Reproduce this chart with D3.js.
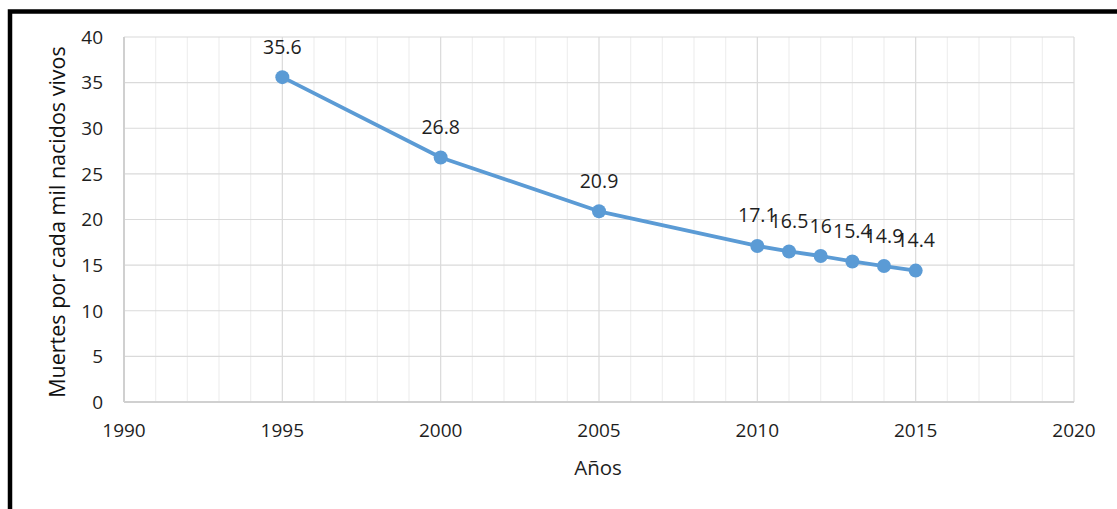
<!DOCTYPE html>
<html>
<head>
<meta charset="utf-8">
<script src="https://cdn.jsdelivr.net/npm/d3@7"></script>
<style>
  html, body { margin: 0; padding: 0; background: #fff; }
  svg { display: block; font-family: "Open Sans", "Noto Sans", sans-serif; }
</style>
</head>
<body>
<div id="chart"></div>
<script>
// -- data --
const years = [1995, 2000, 2005, 2010, 2011, 2012, 2013, 2014, 2015];
const rates = [35.6, 26.8, 20.9, 17.1, 16.5, 16, 15.4, 14.9, 14.4];
const xTicks = [1990, 1995, 2000, 2005, 2010, 2015, 2020];
const yTicks = [0, 5, 10, 15, 20, 25, 30, 35, 40];
const xTitle = 'Años';
const yTitle = 'Muertes por cada mil nacidos vivos';

const W = 1117, H = 509;
const m = { left: 124, right: 43, top: 37, bottom: 107 };
const blue = '#5b9bd5';
const textCol = '#1e1e1e';

const svg = d3.select('#chart').append('svg')
  .attr('width', W).attr('height', H);

// black frame (top and left edges visible in the crop)
svg.append('path')
  .attr('d', `M10,${H + 5} L10,11.5 L${W + 5},11.5`)
  .attr('fill', 'none')
  .attr('stroke', '#000')
  .attr('stroke-width', 4.5);

const x = d3.scaleLinear().domain([1990, 2020]).range([m.left, W - m.right]);
const y = d3.scaleLinear().domain([0, 40]).range([H - m.bottom, m.top]);

const g = svg.append('g');

// minor vertical grid, one per year
g.selectAll('line.vminor')
  .data(d3.range(1991, 2020).filter(v => v % 5 !== 0))
  .enter().append('line')
  .attr('class', 'vminor')
  .attr('x1', d => x(d)).attr('x2', d => x(d))
  .attr('y1', y(0)).attr('y2', y(40))
  .attr('stroke', '#efefef').attr('stroke-width', 1.2);

// major vertical grid
g.selectAll('line.vmajor')
  .data(xTicks)
  .enter().append('line')
  .attr('class', 'vmajor')
  .attr('x1', d => x(d)).attr('x2', d => x(d))
  .attr('y1', y(0)).attr('y2', y(40))
  .attr('stroke', '#dadada').attr('stroke-width', 1.2);

// horizontal grid
g.selectAll('line.hgrid')
  .data(yTicks)
  .enter().append('line')
  .attr('class', 'hgrid')
  .attr('x1', x(1990)).attr('x2', x(2020))
  .attr('y1', d => y(d)).attr('y2', d => y(d))
  .attr('stroke', '#dadada').attr('stroke-width', 1.2);

// axes frame lines a touch darker
g.append('line')
  .attr('x1', x(1990)).attr('x2', x(2020))
  .attr('y1', y(0)).attr('y2', y(0))
  .attr('stroke', '#d0d0d0').attr('stroke-width', 2);
g.append('line')
  .attr('x1', x(1990)).attr('x2', x(1990))
  .attr('y1', y(0)).attr('y2', y(40))
  .attr('stroke', '#d0d0d0').attr('stroke-width', 2);

// tick labels
g.selectAll('text.ylab')
  .data(yTicks)
  .enter().append('text')
  .attr('class', 'ylab')
  .attr('x', 103)
  .attr('y', d => y(d))
  .attr('dy', '0.36em')
  .attr('text-anchor', 'end')
  .attr('font-size', '19px')
  .attr('fill', textCol)
  .text(d => d);

g.selectAll('text.xlab')
  .data(xTicks)
  .enter().append('text')
  .attr('class', 'xlab')
  .attr('x', d => x(d))
  .attr('y', 437)
  .attr('text-anchor', 'middle')
  .attr('font-size', '19px')
  .attr('fill', textCol)
  .text(d => d);

// axis titles
svg.append('text')
  .attr('x', 598)
  .attr('y', 475)
  .attr('text-anchor', 'middle')
  .attr('font-size', '20.5px')
  .attr('fill', textCol)
  .text(xTitle);

svg.append('text')
  .attr('transform', 'translate(65,222) rotate(-90)')
  .attr('text-anchor', 'middle')
  .attr('font-size', '21.5px')
  .attr('fill', '#111')
  .text(yTitle);

// series
const pts = years.map((yr, i) => ({ yr, v: rates[i] }));

g.append('path')
  .datum(pts)
  .attr('fill', 'none')
  .attr('stroke', blue)
  .attr('stroke-width', 3.8)
  .attr('stroke-linejoin', 'round')
  .attr('d', d3.line().x(d => x(d.yr)).y(d => y(d.v)));

g.selectAll('circle.pt')
  .data(pts)
  .enter().append('circle')
  .attr('class', 'pt')
  .attr('cx', d => x(d.yr))
  .attr('cy', d => y(d.v))
  .attr('r', 7)
  .attr('fill', blue);

g.selectAll('text.val')
  .data(pts)
  .enter().append('text')
  .attr('class', 'val')
  .attr('x', d => x(d.yr))
  .attr('y', d => y(d.v) - 23.5)
  .attr('text-anchor', 'middle')
  .attr('font-size', '19.5px')
  .attr('fill', textCol)
  .text(d => d.v);
</script>
</body>
</html>
